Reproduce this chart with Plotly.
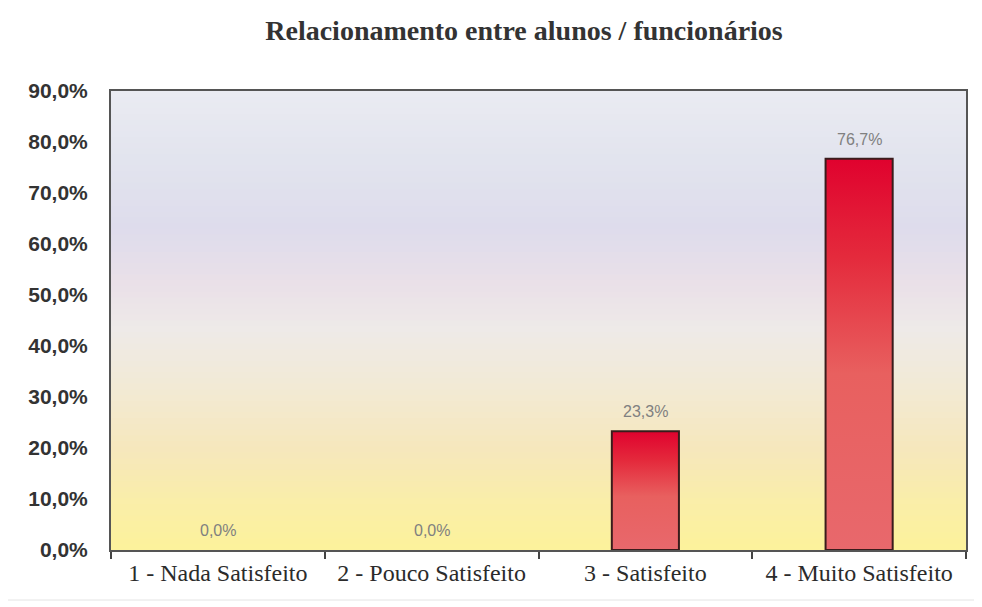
import plotly.graph_objects as go

# data
categorias = ["1 - Nada Satisfeito", "2 - Pouco Satisfeito", "3 - Satisfeito", "4 - Muito Satisfeito"]
percentagens = [0.0, 0.0, 23.3, 76.7]
y_ticks = [0, 10, 20, 30, 40, 50, 60, 70, 80, 90]

titulo = "Relacionamento entre alunos / funcionários"

def pt(v):
    return f"{v:.1f}%".replace(".", ",")

# page body has an 8px margin, so the figure is shifted by 8px
W, H = 974, 599
L, R, T, B = 103, 16, 83, 57

half_w = 0.157  # half of bar width, in category units

fig = go.Figure()

# bars drawn as filled polygons so they can carry a vertical gradient
for i, v in enumerate(percentagens):
    if v <= 0:
        continue
    fig.add_trace(go.Scatter(
        x=[i - half_w, i - half_w, i + half_w, i + half_w, i - half_w],
        y=[0, v, v, 0, 0],
        mode="lines",
        fill="toself",
        fillgradient=dict(type="vertical",
                          colorscale=[[0, "#e8686c"], [0.45, "#e8605f"],
                                      [0.75, "#e42a3c"], [1, "#e0022e"]]),
        line=dict(color="#3a1c1c", width=2),
        hoverinfo="skip",
        showlegend=False,
    ))

# value labels
annots = []
for i, v in enumerate(percentagens):
    annots.append(dict(x=i, y=v, xref="x", yref="y", text=pt(v),
                       showarrow=False, yanchor="bottom", yshift=9,
                       font=dict(family="Liberation Sans", size=16, color="#808080")))

# gradient background of the plot area
stops = [
    (0.00, (252, 242, 155)),
    (0.10, (250, 238, 168)),
    (0.22, (246, 231, 188)),
    (0.35, (242, 234, 212)),
    (0.48, (238, 234, 232)),
    (0.58, (234, 224, 232)),
    (0.70, (222, 220, 236)),
    (0.85, (226, 228, 238)),
    (1.00, (234, 235, 242)),
]

def lerp_colour(t):
    for (t0, c0), (t1, c1) in zip(stops[:-1], stops[1:]):
        if t0 <= t <= t1:
            f = (t - t0) / (t1 - t0)
            return "rgb(%d,%d,%d)" % tuple(round(a + (b - a) * f) for a, b in zip(c0, c1))
    return "rgb(%d,%d,%d)" % stops[-1][1]

n = 80
shapes = []
for k in range(n):
    shapes.append(dict(type="rect", xref="x domain", yref="y domain",
                       x0=0, x1=1, y0=k / n, y1=(k + 1) / n + 0.002,
                       fillcolor=lerp_colour((k + 0.5) / n), line_width=0,
                       layer="below"))

# faint outer border of the chart (figure px -> paper units)
pw, ph = W - L - R, H - T - B
bx0, bx1, by0, by1 = -3, 969, -3, 592
shapes.append(dict(type="rect", xref="paper", yref="paper",
                   x0=(bx0 - L) / pw, x1=(bx1 - L) / pw,
                   y0=(H - B - by1) / ph, y1=(H - B - by0) / ph,
                   line=dict(color="#e4e4e4", width=1), layer="below"))

fig.update_layout(
    width=W, height=H,
    margin=dict(l=L, r=R, t=T, b=B),
    paper_bgcolor="white",
    plot_bgcolor="rgba(0,0,0,0)",
    shapes=shapes,
    annotations=annots,
    title=dict(text="<b>" + titulo + "</b>", x=516 / W, xanchor="center",
               xref="container", y=1 - 22 / H, yanchor="middle",
               font=dict(family="Liberation Serif", size=28, color="#333333")),
    showlegend=False,
)

fig.update_xaxes(
    range=[-0.5, len(categorias) - 0.5],
    tickvals=list(range(len(categorias))),
    ticktext=categorias,
    ticks="",
    tickfont=dict(family="Liberation Serif", size=24, color="#2b2b2b"),
    showgrid=False, zeroline=False,
    showline=True, linecolor="#555555", linewidth=2, mirror=True,
    minor=dict(ticks="outside", tick0=-0.5, dtick=1, ticklen=7,
               tickcolor="#444444", tickwidth=2, showgrid=False),
)

fig.update_yaxes(
    range=[0, 90],
    tickvals=y_ticks,
    ticktext=[pt(v) for v in y_ticks],
    ticks="",
    ticklabelstandoff=17,
    tickfont=dict(family="Liberation Sans", size=21, color="#333333", weight="bold"),
    showgrid=False, zeroline=False,
    showline=True, linecolor="#555555", linewidth=2, mirror=True,
)

fig.write_html("out.html")
